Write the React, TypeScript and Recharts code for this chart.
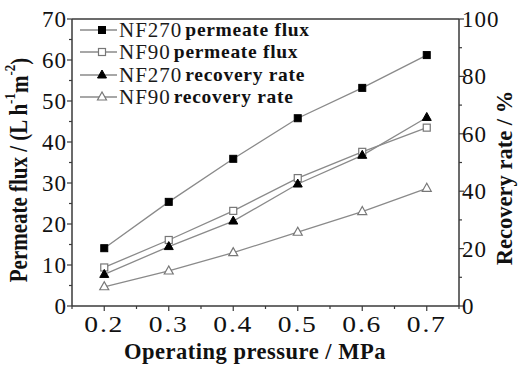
import React from 'react';
import { LineChart, Line, XAxis, YAxis, ReferenceLine } from 'recharts';

const pressure = [0.2, 0.3, 0.4, 0.5, 0.6, 0.7];
const nf270Flux = [14.1, 25.4, 35.9, 45.8, 53.2, 61.2];
const nf90Flux = [9.4, 16.1, 23.2, 31.2, 37.6, 43.5];
const nf270Recovery = [11.0, 20.7, 29.6, 42.5, 52.5, 65.7];
const nf90Recovery = [6.7, 12.2, 18.6, 25.7, 32.9, 41.0];

const xMajor = [0.2, 0.3, 0.4, 0.5, 0.6, 0.7];
const xAllTicks = [0.15, 0.2, 0.25, 0.3, 0.35, 0.4, 0.45, 0.5, 0.55, 0.6, 0.65, 0.7, 0.75];
const leftMajor = [0, 10, 20, 30, 40, 50, 60, 70];
const leftAllTicks = [0, 5, 10, 15, 20, 25, 30, 35, 40, 45, 50, 55, 60, 65, 70];
const rightMajor = [0, 20, 40, 60, 80, 100];
const rightAllTicks = [0, 10, 20, 30, 40, 50, 60, 70, 80, 90, 100];

const seriesNames = ['NF270', 'NF90', 'NF270', 'NF90'];
const seriesDesc = ['permeate flux', 'permeate flux', 'recovery rate', 'recovery rate'];

const data = pressure.map((p, i) => ({
  p,
  f270: nf270Flux[i],
  f90: nf90Flux[i],
  r270: nf270Recovery[i],
  r90: nf90Recovery[i],
}));

const SERIF = '"Liberation Serif", "DejaVu Serif", serif';
const AXIS = '#3a3a3a';
const LINE = '#8a8a8a';

const near = (arr: number[], v: number) => arr.some((a) => Math.abs(a - v) < 1e-6);

const LeftTick = (props: any) => {
  const { x, y, payload } = props;
  const major = near(leftMajor, payload.value);
  return (
    <g>
      <line x1={x} x2={x - (major ? 5 : 3)} y1={y} y2={y} stroke={AXIS} strokeWidth={1.2} />
      {major && (
        <text x={x - 5} y={y} dy="0.35em" textAnchor="end" fontFamily={SERIF} fontSize={23} fill="#111" letterSpacing={1}>
          {payload.value}
        </text>
      )}
    </g>
  );
};

const RightTick = (props: any) => {
  const { x, y, payload } = props;
  const major = near(rightMajor, payload.value);
  return (
    <g>
      <line x1={x} x2={x + (major ? 5 : 3)} y1={y} y2={y} stroke={AXIS} strokeWidth={1.2} />
      {major && (
        <text x={x + 3} y={y} dy="0.35em" textAnchor="start" fontFamily={SERIF} fontSize={23} fill="#111" letterSpacing={1}>
          {payload.value}
        </text>
      )}
    </g>
  );
};

const BottomTick = (props: any) => {
  const { x, y, payload } = props;
  const major = near(xMajor, payload.value);
  return (
    <g>
      <line x1={x} x2={x} y1={y} y2={y + (major ? 5 : 3)} stroke={AXIS} strokeWidth={1.2} />
      {major && (
        <text transform={`translate(${x} ${y + 26}) scale(1.2 1)`} textAnchor="middle" fontFamily={SERIF} fontSize={23} fill="#111" letterSpacing={1.5}>
          {payload.value.toFixed(1)}
        </text>
      )}
    </g>
  );
};

const Marker = ({ kind, cx, cy }: { kind: number; cx: number; cy: number }) => {
  if (kind === 0) return <rect x={cx - 3.5} y={cy - 3.5} width={7} height={7} fill="#000" stroke="#000" />;
  if (kind === 1) return <rect x={cx - 3.5} y={cy - 3.5} width={7} height={7} fill="#fff" stroke="#777" strokeWidth={1.2} />;
  const h = 8;
  const pts = `${cx},${cy - h / 2 - 1} ${cx - 4.5},${cy + h / 2 - 1} ${cx + 4.5},${cy + h / 2 - 1}`;
  if (kind === 2) return <polygon points={pts} fill="#000" stroke="#000" />;
  return <polygon points={pts} fill="#fff" stroke="#777" strokeWidth={1.2} />;
};

const makeDot = (kind: number) => (props: any) => {
  const { cx, cy, index } = props;
  if (cx == null || cy == null) return <g key={index} />;
  return <Marker key={index} kind={kind} cx={cx} cy={cy} />;
};

const LegendBox = () => (
  <div style={{ position: 'absolute', left: 78, top: 19, display: 'flex', flexDirection: 'column' }}>
    {seriesNames.map((n, i) => (
      <div key={i} style={{ display: 'flex', alignItems: 'center', height: 22.3 }}>
        <svg width={41} height={20} style={{ display: 'block' }}>
          <line x1={2} x2={39} y1={10} y2={10} stroke={LINE} strokeWidth={1.3} />
          <Marker kind={i} cx={24} cy={10} />
        </svg>
        <span style={{ fontFamily: SERIF, fontSize: 21, color: '#1a1a1a', letterSpacing: 1, lineHeight: '20px', whiteSpace: 'nowrap' }}>
          {n}
        </span>
        <span style={{ fontFamily: SERIF, fontSize: 19.5, fontWeight: 'bold', color: '#111', letterSpacing: 0.7, lineHeight: '20px', marginLeft: 3, whiteSpace: 'nowrap' }}>
          {seriesDesc[i]}
        </span>
      </div>
    ))}
  </div>
);

const LeftTitle = (props: any) => {
  const vb = props.viewBox || { x: 0, y: 19, width: 72, height: 287 };
  const cx = vb.x + 19;
  const cy = vb.y + 151;
  return (
    <text transform={`translate(${cx} ${cy}) rotate(-90) scale(1 1.15)`} textAnchor="middle" dominantBaseline="central" fontFamily={SERIF} fontWeight="bold" fontSize={21} fill="#111">
      Permeate flux / (L h<tspan fontSize={13} dy={-8}>-1</tspan><tspan dy={8}>m</tspan><tspan fontSize={13} dy={-8}>-2</tspan><tspan dy={8}>)</tspan>
    </text>
  );
};

const RightTitle = (props: any) => {
  const vb = props.viewBox || { x: 459, y: 19, width: 59, height: 287 };
  const cx = vb.x + 45;
  const cy = vb.y + 159;
  return (
    <text transform={`translate(${cx} ${cy}) rotate(-90)`} textAnchor="middle" dominantBaseline="central" fontFamily={SERIF} fontWeight="bold" fontSize={22.5} fill="#111">
      Recovery rate / %
    </text>
  );
};

const BottomTitle = (props: any) => {
  const vb = props.viewBox || { x: 72, y: 306, width: 387, height: 59 };
  const cx = vb.x + 183;
  const cy = vb.y + 53;
  return (
    <text x={cx} y={cy} textAnchor="middle" fontFamily={SERIF} fontWeight="bold" fontSize={22.5} fill="#111" letterSpacing={0.5}>
      Operating pressure / MPa
    </text>
  );
};

export default function App() {
  return (
    <div style={{ position: 'absolute', left: 0, top: 0, width: 518, height: 365, background: '#fff' }}>
      <LineChart width={518} height={365} data={data} margin={{ top: 19, right: 0, bottom: 0, left: 0 }}>
        <XAxis
          dataKey="p"
          type="number"
          domain={[0.15, 0.75]}
          ticks={xAllTicks}
          interval={0}
          height={59}
          tickSize={0}
          tickMargin={0}
          tickLine={false}
          axisLine={{ stroke: AXIS, strokeWidth: 1.5 }}
          tick={(p: any) => <BottomTick {...p} />}
          label={{ content: (p: any) => <BottomTitle {...p} /> }}
        />
        <YAxis
          yAxisId="left"
          domain={[0, 70]}
          ticks={leftAllTicks}
          interval={0}
          width={72}
          tickSize={0}
          tickMargin={0}
          tickLine={false}
          axisLine={{ stroke: AXIS, strokeWidth: 1.5 }}
          tick={(p: any) => <LeftTick {...p} />}
          label={{ content: (p: any) => <LeftTitle {...p} /> }}
        />
        <YAxis
          yAxisId="right"
          orientation="right"
          domain={[0, 100]}
          ticks={rightAllTicks}
          interval={0}
          width={59}
          tickSize={0}
          tickMargin={0}
          tickLine={false}
          axisLine={{ stroke: AXIS, strokeWidth: 1.5 }}
          tick={(p: any) => <RightTick {...p} />}
          label={{ content: (p: any) => <RightTitle {...p} /> }}
        />
        <ReferenceLine yAxisId="left" y={70} stroke={AXIS} strokeWidth={1.5} />
        <Line yAxisId="left" dataKey="f270" stroke={LINE} strokeWidth={1.3} dot={makeDot(0)} isAnimationActive={false} />
        <Line yAxisId="left" dataKey="f90" stroke={LINE} strokeWidth={1.3} dot={makeDot(1)} isAnimationActive={false} />
        <Line yAxisId="right" dataKey="r270" stroke={LINE} strokeWidth={1.3} dot={makeDot(2)} isAnimationActive={false} />
        <Line yAxisId="right" dataKey="r90" stroke={LINE} strokeWidth={1.3} dot={makeDot(3)} isAnimationActive={false} />
      </LineChart>
      <LegendBox />
    </div>
  );
}
